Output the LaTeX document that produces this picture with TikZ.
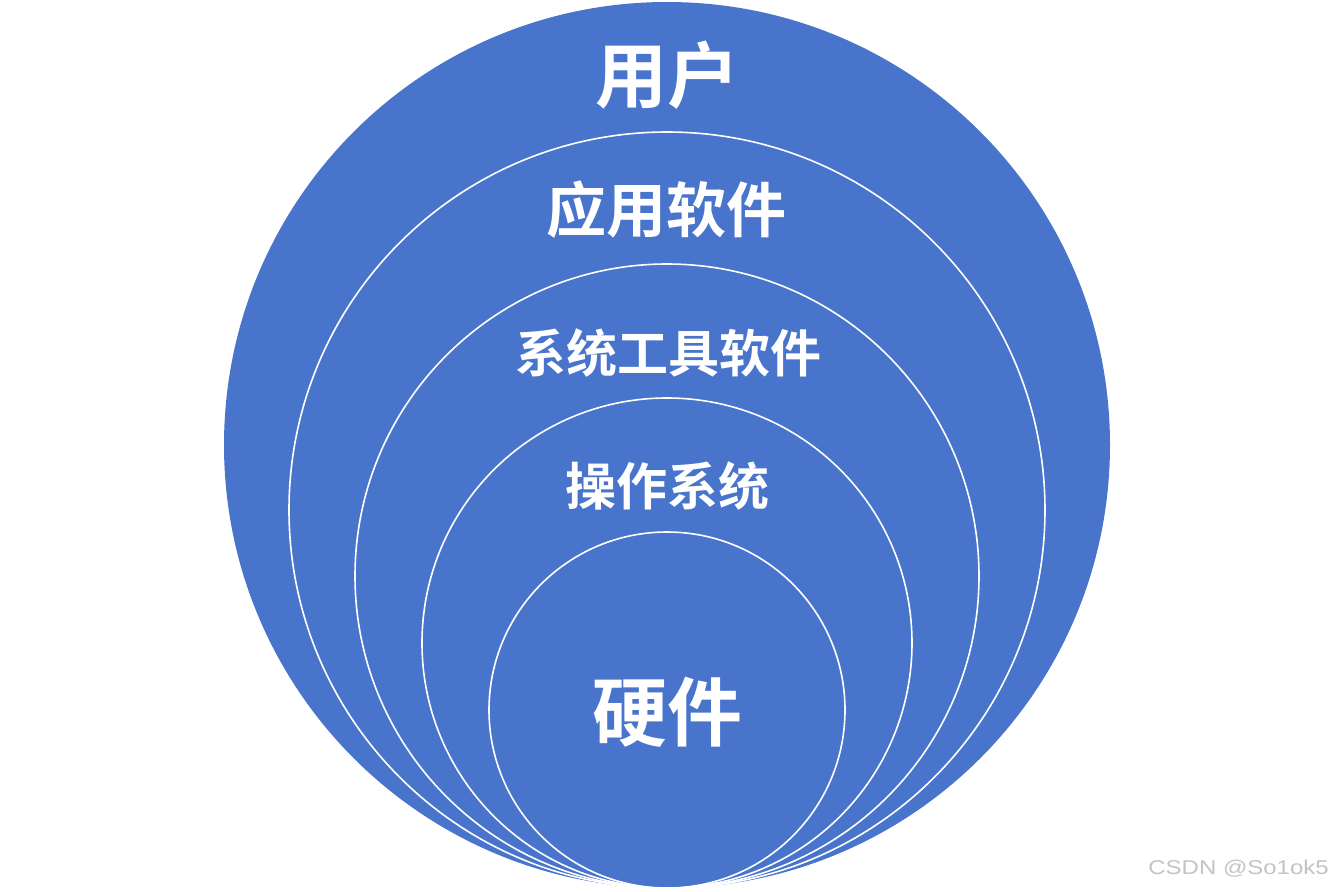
\documentclass[tikz,border=0pt]{standalone}
\usepackage{fontspec}
\setmainfont{Liberation Sans}
\newfontfamily\cjk{Noto Sans CJK SC Bold}
\definecolor{ringblue}{HTML}{4874CB}
\definecolor{wmgray}{HTML}{C4C4C4}
\tikzset{
  ring/.style={fill=ringblue, draw=white, line width=1.6pt},
  lbl/.style={text=white, font=\cjk, inner sep=0pt, anchor=center},
}
\begin{document}
\begin{tikzpicture}[x=1pt,y=-1pt]
\useasboundingbox (0,0) rectangle (1334,892);
\fill[white] (0,0) rectangle (1334,892);
\path[ring, draw=none] (667,445) circle[radius=443];
\path[ring] (667,510) circle[radius=378];
\path[ring] (667,576) circle[radius=312];
\path[ring] (667,643) circle[radius=245];
\path[ring] (667,710) circle[radius=178];
\node[lbl, font=\cjk\fontsize{72}{72}\selectfont] (user) at (667,75) {用户};
\node[lbl, font=\cjk\fontsize{60}{60}\selectfont] (app) at (666,210) {应用软件};
\node[lbl, font=\cjk\fontsize{51}{51}\selectfont] (tool) at (668,353) {系统工具软件};
\node[lbl, font=\cjk\fontsize{51}{51}\selectfont] (os) at (667,486) {操作系统};
\node[lbl, font=\cjk\fontsize{75}{75}\selectfont] (hw) at (667,712) {硬件};
\node[text=wmgray, inner sep=0pt, anchor=east, font=\fontsize{20}{20}\selectfont] (wm) at (1329,869) {\scalebox{1.2}[1]{CSDN @So1ok5}};
\end{tikzpicture}
\end{document}
